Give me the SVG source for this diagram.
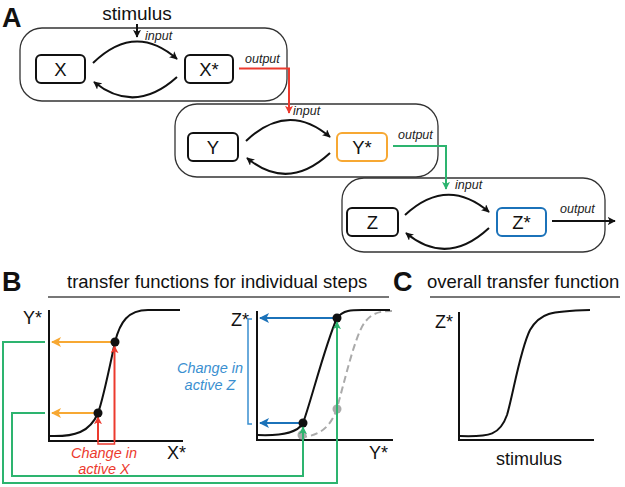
<svg xmlns="http://www.w3.org/2000/svg" width="625" height="487" viewBox="0 0 625 487">
<style>
text{font-family:"Liberation Sans",Arial,sans-serif;fill:#111}
.lbl{font-size:18.5px}
.io{font-size:12.5px;font-style:italic;fill:#222}
.panel{font-size:27px;font-weight:bold}
.title{font-size:18.5px}
.ax{font-size:18px}
.big{fill:none;stroke:#333;stroke-width:1.3}
.nb{fill:#fff;stroke:#111;stroke-width:2}
.arc{fill:none;stroke:#111;stroke-width:2}
.axis{fill:none;stroke:#111;stroke-width:2}
.curve{fill:none;stroke:#111;stroke-width:2}
.under{stroke:#777;stroke-width:2}
.red{stroke:#ec3a2e;fill:none;stroke-width:2}
.org{stroke:#f7a833;fill:none;stroke-width:2.2}
.grn{stroke:#2db46f;fill:none;stroke-width:2}
.blu{stroke:#1b72b9;fill:none;stroke-width:2.2}
</style>
<defs>
<marker id="ak" viewBox="0 0 10 10" refX="9" refY="5" markerWidth="8" markerHeight="8" markerUnits="userSpaceOnUse" orient="auto"><path d="M0,0 L10,5 L0,10 L2.5,5 z" fill="#111"/></marker>
<marker id="ar" viewBox="0 0 10 10" refX="9" refY="5" markerWidth="8" markerHeight="8" markerUnits="userSpaceOnUse" orient="auto"><path d="M0,0 L10,5 L0,10 L2.5,5 z" fill="#ec3a2e"/></marker>
<marker id="ag" viewBox="0 0 10 10" refX="9" refY="5" markerWidth="8" markerHeight="8" markerUnits="userSpaceOnUse" orient="auto"><path d="M0,0 L10,5 L0,10 L2.5,5 z" fill="#2db46f"/></marker>
<marker id="ao" viewBox="0 0 10 10" refX="9" refY="5" markerWidth="10" markerHeight="10" markerUnits="userSpaceOnUse" orient="auto"><path d="M0,0 L10,5 L0,10 L2.5,5 z" fill="#f7a833"/></marker>
<marker id="ab" viewBox="0 0 10 10" refX="9" refY="5" markerWidth="10" markerHeight="10" markerUnits="userSpaceOnUse" orient="auto"><path d="M0,0 L10,5 L0,10 L2.5,5 z" fill="#1b72b9"/></marker>
</defs>

<text class="panel" x="2" y="27">A</text>
<text class="lbl" x="137" y="20" text-anchor="middle" style="font-size:19px">stimulus</text>

<g id="step1">
<rect class="big" x="20" y="28" width="267" height="73" rx="22"/>
<g id="X"><rect class="nb" x="36" y="55" width="49" height="28" rx="5"/><text class="lbl" x="60.5" y="76" text-anchor="middle">X</text></g>
<g id="Xs"><rect class="nb" x="185" y="55" width="48" height="28" rx="5"/><text class="lbl" x="209" y="76" text-anchor="middle">X*</text></g>
</g>
<g id="step2">
<rect class="big" x="175" y="104" width="263" height="73" rx="22"/>
<g id="Y"><rect class="nb" x="188" y="133" width="50" height="28" rx="5"/><text class="lbl" x="213" y="154" text-anchor="middle">Y</text></g>
<g id="Ys"><rect class="nb" x="337" y="133" width="50" height="28" rx="5" style="stroke:#f7a833"/><text class="lbl" x="362" y="154" text-anchor="middle">Y*</text></g>
</g>
<g id="step3">
<rect class="big" x="342" y="178" width="263" height="74" rx="22"/>
<g id="Z"><rect class="nb" x="347" y="208" width="51" height="28" rx="5"/><text class="lbl" x="372.5" y="229" text-anchor="middle">Z</text></g>
<g id="Zs"><rect class="nb" x="497" y="208" width="49" height="28" rx="5" style="stroke:#1b72b9"/><text class="lbl" x="521.5" y="229" text-anchor="middle">Z*</text></g>
</g>

<g id="connectors">
<path class="arc" d="M93,63 Q135,22 177,59" marker-end="url(#ak)"/>
<path class="arc" d="M177,77 Q135,115 94,82" marker-end="url(#ak)"/>
<path class="arc" d="M246,141 Q288,101 330,137" marker-end="url(#ak)"/>
<path class="arc" d="M330,153 Q288,192 247,158" marker-end="url(#ak)"/>
<path class="arc" d="M405,215 Q447,176 489,212" marker-end="url(#ak)"/>
<path class="arc" d="M489,228 Q447,267 406,233" marker-end="url(#ak)"/>
<line class="arc" x1="137" y1="24" x2="137" y2="37" marker-end="url(#ak)"/>
<path class="red" d="M239,68.5 H289 V113" marker-end="url(#ar)"/>
<path class="grn" d="M393,146 H446 V189" marker-end="url(#ag)"/>
<line class="arc" x1="552" y1="221" x2="615" y2="221" marker-end="url(#ak)"/>
</g>
<text class="io" x="145" y="40">input</text>
<text class="io" x="245" y="63">output</text>
<text class="io" x="293" y="115">input</text>
<text class="io" x="398" y="139">output</text>
<text class="io" x="455" y="189">input</text>
<text class="io" x="560" y="213">output</text>

<text class="panel" x="2" y="291">B</text>
<text class="title" x="67" y="288">transfer functions for individual steps</text>
<line class="under" x1="48" y1="297" x2="389" y2="297"/>
<text class="panel" x="393" y="291">C</text>
<text class="title" x="427" y="288">overall transfer function</text>
<line class="under" x1="430" y1="297" x2="620" y2="297"/>

<g id="plot1">
<path class="axis" d="M49,310 V441 H183"/>
<text class="ax" x="23" y="324">Y*</text>
<text class="ax" x="167" y="459">X*</text>
<path class="curve" d="M49,436 C75,437 90,432 98,413 C103,400 110,365 115,342 C120,322 128,310 148,310 L180,310"/>
<path class="red" d="M98,441 V417" marker-end="url(#ar)"/>
<path class="red" d="M114.5,441 V346" marker-end="url(#ar)"/>
<path class="red" d="M98,441 V444 H114.5 V441" style="stroke-width:1.5"/>
<path class="org" d="M111,342 H52" marker-end="url(#ao)"/>
<path class="org" d="M95,413 H52" marker-end="url(#ao)"/>
<circle cx="98" cy="413" r="4.5" fill="#111"/>
<circle cx="115" cy="342" r="4.5" fill="#111"/>
<text x="104" y="458" text-anchor="middle" style="font-size:14.5px;font-style:italic;fill:#ec3a2e">Change in</text>
<text x="104" y="474" text-anchor="middle" style="font-size:14.5px;font-style:italic;fill:#ec3a2e">active X</text>
</g>

<g id="plot2">
<path class="axis" d="M257,311 V440 H393"/>
<text class="ax" x="231" y="326">Z*</text>
<text class="ax" x="369" y="459">Y*</text>
<path d="M300,437 C320,437 332,425 337,408 C345,380 355,335 365,322 C372,313 380,311 392,311" fill="none" stroke="#aaa" stroke-width="2" stroke-dasharray="7,4"/>
<circle cx="337" cy="409" r="4.5" fill="#aaa"/>
<circle cx="302" cy="435" r="4.5" fill="#aaa"/>
<path class="curve" d="M258,435 C285,436 298,432 303,423 C310,405 325,345 337,318 C343,310 352,310 362,310 L390,310"/>
<path class="blu" d="M333,318 H260" marker-end="url(#ab)"/>
<path class="blu" d="M299,423 H260" marker-end="url(#ab)"/>
<path d="M252,319 H248 V424 H252" fill="none" stroke="#3a8fd0" stroke-width="1.5"/>
<circle cx="303" cy="423" r="4.5" fill="#111"/>
<circle cx="337" cy="318" r="4.5" fill="#111"/>
<text x="210" y="373" text-anchor="middle" style="font-size:14.5px;font-style:italic;fill:#3a8fd0">Change in</text>
<text x="210" y="390" text-anchor="middle" style="font-size:14.5px;font-style:italic;fill:#3a8fd0">active Z</text>
</g>

<g id="feedback">
<path class="grn" d="M45,413 H12 V476 H303 V427" marker-end="url(#ag)"/>
<path class="grn" d="M45,342 H3 V483 H337 V322" marker-end="url(#ag)"/>
</g>

<g id="plot3">
<path class="axis" d="M459,312 V440 H594"/>
<text class="ax" x="435" y="328">Z*</text>
<text class="ax" x="529" y="465" text-anchor="middle">stimulus</text>
<path class="curve" d="M460,436 C490,437 500,435 507,415 C513,395 520,350 530,330 C540,313 550,311 590,310"/>
</g>
</svg>
